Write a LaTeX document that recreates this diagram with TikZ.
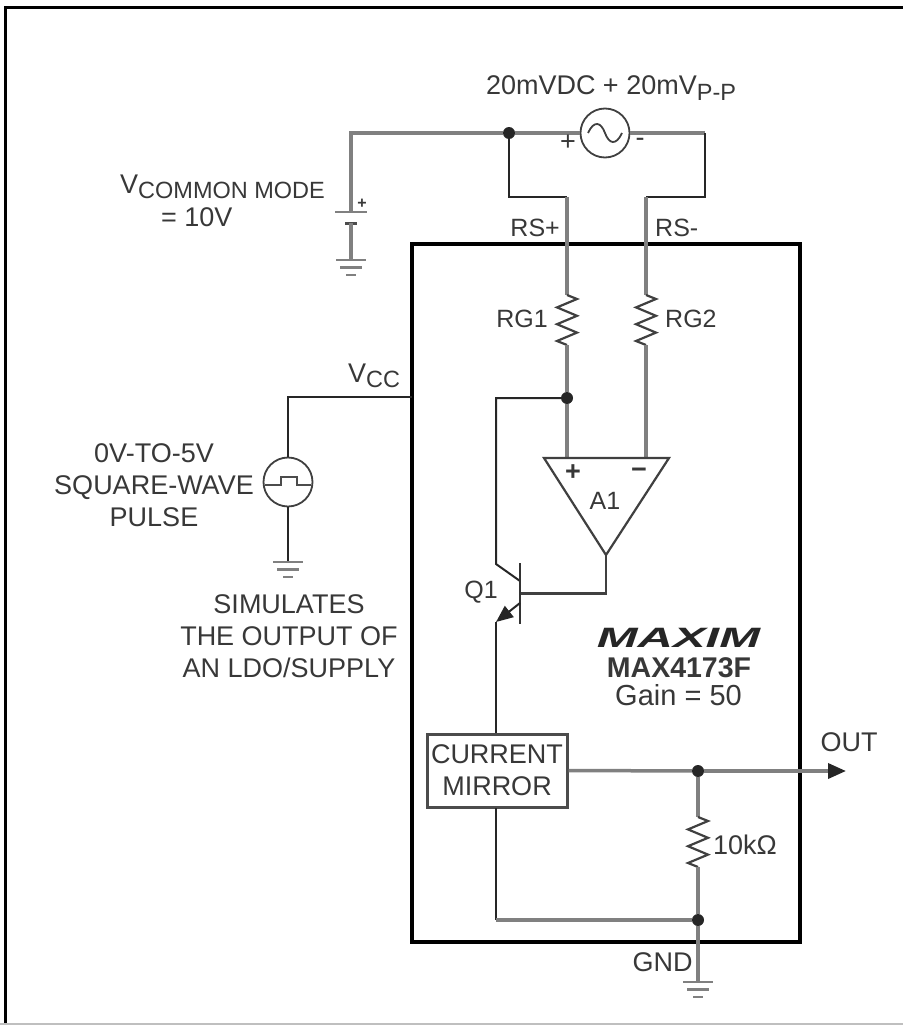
\documentclass[tikz,border=0pt]{standalone}
\usepackage{fontspec}
\setmainfont{Liberation Sans}
\usetikzlibrary{arrows.meta,calc}
\definecolor{wire}{gray}{0.5}
\definecolor{ink}{gray}{0.22}
\tikzset{
  lbl/.style={inner sep=0pt, text=ink, font=\fontsize{27}{32}\selectfont, align=center},
  lblsmall/.style={lbl, font=\fontsize{25}{30}\selectfont},
  lead/.style={draw=wire, line width=3.5pt},
  thin/.style={draw=black!85, line width=2pt},
  part/.style={draw=black!75, line width=2.2pt},
  dot/.style={circle, fill=black!85, draw=none, minimum size=12pt, inner sep=0pt},
  srcnode/.style={circle, draw=black!75, line width=1.8pt, fill=white, minimum size=49pt, inner sep=0pt}
}
\newcommand{\subtxt}[1]{\raisebox{-5.5pt}{\fontsize{23.5}{23.5}\selectfont #1}}
\newcommand{\gndsym}[1]{
  \draw[wire, line width=2.5pt] ($(#1)+(-15,0)$) -- ($(#1)+(15,0)$);
  \draw[wire, line width=2.5pt] ($(#1)+(-11,7.5)$) -- ($(#1)+(11,7.5)$);
  \draw[wire, line width=2.5pt] ($(#1)+(-5,15)$) -- ($(#1)+(5,15)$);
}
\newcommand{\zigzag}[1]{
  \draw[part] (#1) -- ++(10,4) -- ++(-20,8.4) -- ++(20,8.4) -- ++(-20,8.4) -- ++(20,8.4) -- ++(-20,8.4) -- ++(10,4);
}
\begin{document}
\begin{tikzpicture}[x=1pt, y=-1pt]
\useasboundingbox (0,0) rectangle (903,1025);
% page frame
\draw[black, line width=3pt] (5.5,1025) -- (5.5,7.5) -- (903,7.5);
\draw[black!25, line width=1.5pt] (0,1024) -- (903,1024);
% device box
\draw[black, line width=4pt] (412,244) rectangle (800,942);
% points
\node[dot] (D1) at (509,133) {};
\node[dot] (D2) at (567,398) {};
\node[dot] (D3) at (698,771) {};
\node[dot] (D4) at (698,920) {};
\node[srcnode] (Vac) at (605,133) {};
\node[srcnode] (Vsq) at (288,482) {};
\node[draw=black!70, line width=3pt, fill=white, minimum width=140pt, minimum height=73pt, inner sep=0pt, lbl] (Mir) at (497,770.5) {CURRENT\\MIRROR};
\coordinate (BatTop) at (351,133);
\coordinate (BatPos) at (351,212);
\coordinate (BatNeg) at (351,223);
\coordinate (RsP) at (567,197);
\coordinate (RsN) at (646,197);
\coordinate (VacR) at (705,133);
\coordinate (Gnd1) at (351,260);
\coordinate (Gnd2) at (288,562);
\coordinate (Gnd3) at (698,982);
\coordinate (Rg1) at (567,295);
\coordinate (Rg2) at (646,295);
\coordinate (R3) at (698,817);
\coordinate (OutEnd) at (846,771);
\coordinate (Emit) at (496,622);
\coordinate (Coll) at (496,564);
\coordinate (Base) at (520,593.5);
\coordinate (AmpOut) at (606,555);
\coordinate (Vcc) at (412,397);
% source loop
\draw[lead] (Vac) -- (D1) -- (BatTop) -- (BatPos);
\draw[lead] (Vac) -- (VacR);
\draw[thin] (D1) -- (509,197) -- (RsP);
\draw[thin] (VacR) -- (705,197) -- (RsN);
% battery
\draw[wire, line width=2.5pt] (335,212) -- (367,212);
\draw[black!70, line width=3pt] (345,223) -- (357,223);
\draw[lead] (BatNeg) -- (Gnd1);
\gndsym{Gnd1}
% sense leads
\draw[lead] (RsP) -- (Rg1);
\draw[lead] (RsN) -- (Rg2);
\zigzag{Rg1}
\zigzag{Rg2}
\draw[lead] (567,345) -- (D2) -- (567,458);
\draw[lead] (646,345) -- (646,458);
\draw[thin] (D2) -- (496,398) -- (Coll) -- (520,581);
% amplifier
\draw[part, fill=white] (544,458) -- (669,458) -- (AmpOut) -- cycle;
\draw[part] (AmpOut) -- (606,593.5) -- (Base);
% transistor
\draw[black!80, line width=2.4pt] (520,563) -- (520,624);
\draw[black!85, line width=2pt, -{Triangle[length=17pt, width=14pt]}] (520,603) -- (Emit);
\draw[thin] (Emit) -- (496,733);
\draw[thin] (496,808) -- (496,920);
% output
\draw[lead] (Mir.east) -- (D3);
\draw[lead, -{Triangle[length=18pt, width=15pt, black!85]}] (D3) -- (OutEnd);
\draw[lead] (D3) -- (R3);
\zigzag{R3}
\draw[lead] (698,867) -- (D4);
\draw[lead] (496,920) -- (D4);
\draw[lead] (D4) -- (Gnd3);
\gndsym{Gnd3}
% vcc
\draw[thin] (Vcc) -- (288,397) -- (Vsq);
\draw[thin] (Vsq) -- (Gnd2);
\gndsym{Gnd2}
% source glyphs
\draw[black!75, line width=1.8pt] (588,133) .. controls (594,120) and (601,122) .. (605,133) .. controls (609,144) and (616,146) .. (622,133);
\draw[black!70, line width=2.4pt] (265,485) -- (281,485) -- (281,477) -- (297,477) -- (297,485) -- (311,485);
% labels
\node[lbl, anchor=base] (LSrc) at (611,95) {20mVDC + 20mV\subtxt{P-P}};
\node[lbl] (LPlus) at (568,143) {+};
\node[lbl] (LMinus) at (640,142) {-};
\node[lbl, anchor=base west] (LCm) at (120,193) {V\subtxt{COMMON MODE}};
\node[lbl, anchor=west] (LTen) at (161,217) {= 10V};
\node[lbl, font=\fontsize{16}{16}\selectfont\bfseries] (LBat) at (362,204) {+};
\node[lblsmall, anchor=east] (LRsp) at (560,228) {RS+};
\node[lblsmall, anchor=west] (LRsn) at (655,228) {RS-};
\node[lblsmall, anchor=east] (LRg1) at (548,319) {RG1};
\node[lblsmall, anchor=west] (LRg2) at (665,319) {RG2};
\node[lbl, anchor=base west] (LVcc) at (348,382) {V\subtxt{CC}};
\node[lbl] (LPulse) at (154,485) {0V-TO-5V\\SQUARE-WAVE\\PULSE};
\node[lbl] (LSim) at (289,636) {SIMULATES\\THE OUTPUT OF\\AN LDO/SUPPLY};
\node[lbl, font=\fontsize{27}{27}\selectfont\bfseries] (LAp) at (573,473) {+};
\node[lbl, font=\fontsize{27}{27}\selectfont\bfseries] (LAn) at (639,473) {−};
\node[lblsmall] (LA1) at (605,501) {A1};
\node[lblsmall] (LQ1) at (481,592) {Q1};
\node[lbl, font=\fontsize{28}{28}\selectfont\bfseries\itshape, text=black!85] (LLogo) at (678.5,638) {\scalebox{1.75}[1]{MAXIM}};
\node[lbl, font=\fontsize{28.5}{28.5}\selectfont\bfseries] (LPart) at (679,668) {MAX4173F};
\node[lbl, font=\fontsize{29}{29}\selectfont] (LGain) at (678.5,695) {Gain = 50};
\node[lbl, anchor=west] (LR3) at (713,845) {10kΩ};
\node[lbl] (LOut) at (849,742) {OUT};
\node[lbl] (LGnd) at (662.5,962) {GND};
\end{tikzpicture}
\end{document}
